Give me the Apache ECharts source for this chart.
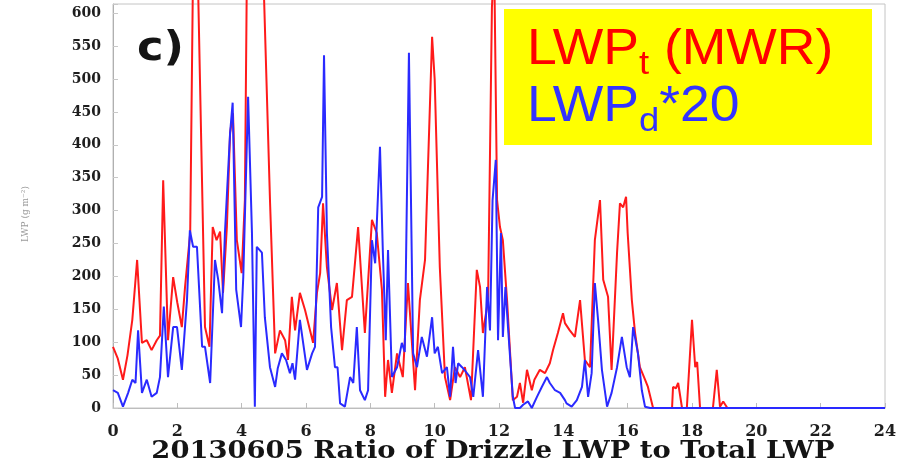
<!DOCTYPE html>
<html>
<head>
<meta charset="utf-8">
<title>20130605 Ratio of Drizzle LWP to Total LWP</title>
<script src="https://cdn.jsdelivr.net/npm/echarts@6/dist/echarts.min.js"></script>
<style>
  html, body { margin: 0; padding: 0; background: #ffffff; }
  #chart { width: 902px; height: 464px; }
</style>
</head>
<body>
<div id="chart"></div>
<script>
// Total liquid water path from the microwave radiometer (g m^-2), hour of day
const redHours = [
  0.0, 0.15, 0.31, 0.45, 0.6, 0.75, 0.9, 1.05, 1.2, 1.36, 1.46, 1.56, 1.71, 1.87, 2.0, 2.14, 2.24, 2.4, 2.5, 2.56, 2.62,
  2.86, 3.0, 3.1, 3.22, 3.33, 3.42, 3.54, 3.64, 3.73, 3.85, 4.0, 4.1, 4.16, 4.4, 4.65, 4.88, 5.04, 5.19, 5.35, 5.44,
  5.56, 5.66, 5.81, 5.97, 6.22, 6.34, 6.44, 6.53, 6.65, 6.81, 6.96, 7.12, 7.27, 7.43, 7.62, 7.83, 8.05, 8.2, 8.36,
  8.46, 8.55, 8.67, 8.83, 9.01, 9.17, 9.39, 9.54, 9.7, 9.92, 10.0, 10.16, 10.32, 10.48, 10.63, 10.79, 10.94, 11.13,
  11.31, 11.41, 11.5, 11.66, 11.78, 11.85, 11.94, 12.03, 12.12, 12.25, 12.34, 12.43, 12.56, 12.65, 12.75, 12.87,
  13.02, 13.1, 13.27, 13.43, 13.58, 13.68, 13.83, 13.99, 14.05, 14.2, 14.36, 14.52, 14.67, 14.83, 14.98, 15.14,
  15.24, 15.39, 15.5, 15.67, 15.76, 15.86, 15.95, 16.0, 16.13, 16.23, 16.38, 16.54, 16.63, 16.79, 17.38, 17.41,
  17.5, 17.57, 17.69, 17.84, 18.0, 18.1, 18.16, 18.25, 18.65, 18.77, 18.87, 18.97, 19.1
];
const redValues = [
  93, 75, 43, 80, 134, 225, 99, 103, 88, 103, 110, 346, 103, 199, 160, 123, 184, 266, 720, 760, 700,
  123, 93, 275, 255, 268, 175, 275, 418, 448, 255, 205, 316, 650, 800, 700, 316, 83, 118, 103, 73,
  169, 118, 175, 149, 99, 175, 205, 311, 214, 149, 190, 88, 164, 169, 275, 114, 286, 266, 180,
  17, 73, 23, 83, 47, 190, 27, 164, 225, 564, 500, 214, 47, 12, 62, 47, 62, 12,
  210, 184, 114, 164, 609, 680, 316, 275, 255, 164, 88, 12, 17, 38, 8, 58,
  27, 43, 58, 53, 68, 88, 114, 144, 129, 118, 108, 164, 73, 62, 255, 316,
  195, 169, 58, 236, 311, 305, 321, 266, 164, 114, 62, 43, 32, 0, 0, 32,
  30, 38, 0, 0, 134, 62, 70, 0, 0, 58, 2, 10, 0
];

// Drizzle liquid water path scaled by 20 (g m^-2), hour of day
const blueHours = [
  0.0, 0.15, 0.31, 0.47, 0.6, 0.7, 0.78, 0.9, 1.05, 1.2, 1.36, 1.46, 1.58, 1.71, 1.87, 1.99, 2.14, 2.3, 2.39, 2.49,
  2.61, 2.77, 2.86, 3.02, 3.17, 3.27, 3.39, 3.48, 3.64, 3.72, 3.83, 3.98, 4.05, 4.2, 4.32, 4.41, 4.47, 4.63, 4.72,
  4.88, 5.04, 5.12, 5.25, 5.38, 5.5, 5.58, 5.66, 5.81, 6.03, 6.19, 6.28, 6.38, 6.5, 6.56, 6.65, 6.78, 6.9, 6.98,
  7.06, 7.21, 7.37, 7.47, 7.58, 7.68, 7.83, 7.93, 8.05, 8.15, 8.3, 8.39, 8.48, 8.55, 8.67, 8.83, 8.98, 9.07, 9.2,
  9.33, 9.45, 9.6, 9.76, 9.92, 10.0, 10.1, 10.23, 10.38, 10.48, 10.57, 10.65, 10.73, 10.85, 10.94, 11.1, 11.2,
  11.35, 11.5, 11.63, 11.72, 11.8, 11.9, 11.97, 12.06, 12.12, 12.2, 12.28, 12.43, 12.5, 12.65, 12.75, 12.9, 13.02,
  13.18, 13.33, 13.49, 13.58, 13.74, 13.9, 14.05, 14.1, 14.26, 14.42, 14.58, 14.67, 14.77, 14.88, 14.98, 15.08,
  15.2, 15.36, 15.5, 15.67, 15.82, 15.97, 16.07, 16.17, 16.32, 16.44, 16.54, 16.7, 24.0
];
const blueValues = [
  27, 23, 2, 23, 43, 38, 118, 23, 43, 17, 23, 47, 154, 47, 123, 123, 58, 164, 270, 245,
  245, 93, 93, 38, 225, 195, 144, 266, 418, 464, 180, 123, 199, 473, 266, 2, 245, 236, 138,
  62, 32, 60, 83, 73, 53, 68, 43, 134, 58, 83, 93, 305, 321, 536, 266, 123, 62, 62,
  7, 2, 47, 38, 123, 27, 12, 27, 255, 220, 397, 236, 103, 240, 47, 62, 99, 85, 540,
  83, 62, 108, 78, 138, 83, 93, 53, 62, 17, 93, 38, 68, 62, 57, 47, 17,
  88, 17, 184, 118, 316, 377, 103, 266, 108, 184, 123, 17, 0, 0, 5, 10, 0,
  17, 32, 47, 38, 27, 23, 12, 7, 2, 12, 32, 73, 17, 53, 190, 134,
  58, 2, 23, 62, 108, 62, 47, 123, 83, 27, 2, 0, 0
];

const xTicks = { min: 0, max: 24, step: 2 };
const yTicks = { min: 0, max: 600, step: 50 };

const pairs = (xs, ys) => xs.map((x, i) => [x, ys[i]]);

const chart = echarts.init(document.getElementById('chart'), null, { renderer: 'canvas' });

const labelFont = {
  fontFamily: 'DejaVu Serif',
  fontWeight: 'bold',
  color: '#1e1e1e'
};

// Legend line: large text with a lowered subscript fragment
const legendRich = c => ({
  m: { fontFamily: 'Liberation Sans', fontSize: 50, lineHeight: 64, fill: c },
  s: { fontFamily: 'Liberation Sans', fontSize: 34, lineHeight: 34, verticalAlign: 'bottom', fill: c }
});

chart.setOption({
  backgroundColor: '#ffffff',
  animation: false,
  grid: {
    left: 113, right: 17, top: 4, bottom: 56,
    show: true, borderColor: '#c4c4c4', borderWidth: 1, backgroundColor: '#ffffff'
  },
  xAxis: {
    type: 'value',
    min: xTicks.min, max: xTicks.max, interval: xTicks.step,
    axisLine: { show: true, lineStyle: { color: '#bdbdbd', width: 1 } },
    axisTick: { show: true, inside: true, length: 5, lineStyle: { color: '#bdbdbd' } },
    splitLine: { show: false },
    axisLabel: Object.assign({ fontSize: 16, margin: 16 }, labelFont)
  },
  yAxis: {
    type: 'value',
    min: yTicks.min, max: 614, interval: yTicks.step,
    axisLine: { show: true, lineStyle: { color: '#b0b0b0', width: 1 } },
    axisTick: { show: true, inside: true, length: 5, lineStyle: { color: '#c8c8c8' } },
    splitLine: { show: false },
    axisLabel: Object.assign({
      fontSize: 14, margin: 12,
      formatter: v => (v % yTicks.step === 0 && v <= yTicks.max) ? String(v) : ''
    }, labelFont)
  },
  graphic: [
    {
      type: 'text', x: 137, y: 30, scaleX: 1.12, z: 50,
      style: { text: 'c)', font: 'bold 40px "DejaVu Sans"', fill: '#141414' }
    },
    {
      type: 'text', x: 26, y: 214, rotation: Math.PI / 2, z: 50,
      style: {
        text: 'LWP (g m⁻²)', font: '9px "DejaVu Serif"', fill: '#9a9a9a',
        textAlign: 'center', textVerticalAlign: 'middle'
      }
    },
    {
      type: 'text', x: 493, y: 452, scaleX: 1.14, z: 50,
      style: {
        text: '20130605 Ratio of Drizzle LWP to Total LWP',
        font: 'bold 24px "DejaVu Serif"', fill: '#141414',
        textAlign: 'center', textVerticalAlign: 'middle'
      }
    },
    {
      type: 'rect', z: 60,
      shape: { x: 504, y: 9, width: 368, height: 136 },
      style: { fill: '#ffff00' }
    },
    {
      type: 'text', x: 527, y: 18, scaleX: 1.07, z: 61,
      style: { text: '{m|LWP}{s|t}{m| (MWR)}', fill: '#ff0000', rich: legendRich('#ff0000') }
    },
    {
      type: 'text', x: 527, y: 75, scaleX: 1.07, z: 61,
      style: { text: '{m|LWP}{s|d}{m|*20}', fill: '#3333ff', rich: legendRich('#3333ff') }
    }
  ],
  series: [
    {
      name: 'LWPt (MWR)',
      type: 'line',
      data: pairs(redHours, redValues),
      showSymbol: false, symbol: 'none', clip: false, z: 3,
      lineStyle: { color: '#ff1a1a', width: 2 }
    },
    {
      name: 'LWPd*20',
      type: 'line',
      data: pairs(blueHours, blueValues),
      showSymbol: false, symbol: 'none', clip: false, z: 4,
      lineStyle: { color: '#2a2aff', width: 2 }
    }
  ]
});
</script>
</body>
</html>
